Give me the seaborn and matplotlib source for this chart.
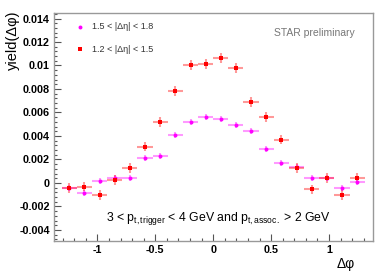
import numpy as np
import pandas as pd
import matplotlib
matplotlib.use("Agg")
import matplotlib.pyplot as plt
import seaborn as sns
from matplotlib.ticker import MultipleLocator, FuncFormatter

# ---- data ----
dphi = [-1.243, -1.113, -0.982, -0.851, -0.720, -0.589, -0.458, -0.327, -0.196, -0.065,
        0.065, 0.196, 0.327, 0.458, 0.589, 0.720, 0.851, 0.982, 1.113, 1.243]
yield_12_15 = [-0.00045, -0.00030, -0.00100, 0.00026, 0.00125, 0.00310, 0.00520, 0.00786, 0.01004, 0.01010,
               0.01066, 0.00976, 0.00690, 0.00560, 0.00370, 0.00130, -0.00055, 0.00045, -0.00100, 0.00045]
yield_15_18 = [-0.00045, -0.00088, 0.00020, 0.00040, 0.00040, 0.00210, 0.00230, 0.00410, 0.00520, 0.00560,
               0.00545, 0.00490, 0.00440, 0.00287, 0.00170, 0.00134, 0.00040, 0.00040, -0.00040, 0.00006]
err_12_15 = [0.00042] * 20
err_15_18 = [0.00026] * 20
half_bin = [0.0654] * 20
labels = ["1.5 < |Δη| < 1.8", "1.2 < |Δη| < 1.5"]

df = pd.DataFrame({
    "dphi": dphi * 2,
    "y": yield_15_18 + yield_12_15,
    "series": [labels[0]] * 20 + [labels[1]] * 20,
})

plt.rcParams['font.family'] = ['Liberation Sans', 'DejaVu Sans']
plt.rcParams['mathtext.fontset'] = 'custom'
plt.rcParams['mathtext.rm'] = 'Liberation Sans'
plt.rcParams['mathtext.it'] = 'Liberation Sans:italic'
fig = plt.figure(figsize=(3.82, 2.74), dpi=100)
ax = fig.add_axes([0.1414, 0.1204, 0.8350, 0.8322])

# error bars
ax.errorbar(dphi, yield_15_18, yerr=err_15_18, xerr=half_bin, fmt='none',
            ecolor='#ff00ff', alpha=0.4, elinewidth=1.5, zorder=2)
ax.errorbar(dphi, yield_12_15, yerr=err_12_15, xerr=half_bin, fmt='none',
            ecolor='#ff0000', alpha=0.4, elinewidth=1.5, zorder=2)

sns.scatterplot(data=df[df.series == labels[0]], x="dphi", y="y", color='#ff00ff',
                marker='o', s=8, linewidth=0, ax=ax, zorder=3, legend=False)
sns.scatterplot(data=df[df.series == labels[1]], x="dphi", y="y", color='#ff0000',
                marker='s', s=10, linewidth=0, ax=ax, zorder=4, legend=False)

ax.set_xlim(-1.375, 1.38)
ax.set_ylim(-0.00494, 0.01447)

ax.xaxis.set_major_locator(MultipleLocator(0.5))
ax.xaxis.set_minor_locator(MultipleLocator(0.1))
ax.yaxis.set_major_locator(MultipleLocator(0.002))
ax.yaxis.set_minor_locator(MultipleLocator(0.0004))

def yfmt(v, pos):
    if abs(v) < 1e-12:
        return "0"
    return ("%.3f" % v).rstrip('0')
def xfmt(v, pos):
    if abs(v) < 1e-12:
        return "0"
    s = ("%.1f" % v)
    if s.endswith(".0"):
        s = s[:-2]
    return s
ax.yaxis.set_major_formatter(FuncFormatter(yfmt))
ax.xaxis.set_major_formatter(FuncFormatter(xfmt))

ax.tick_params(which='both', direction='in', color='#555555', width=0.8,
               top=False, right=False)
ax.tick_params(which='major', length=5)
ax.tick_params(which='minor', length=2.5)
ax.tick_params(axis='both', labelsize=7.8, pad=3)
for lab in ax.get_xticklabels() + ax.get_yticklabels():
    lab.set_fontweight('bold')
for sp in ax.spines.values():
    sp.set_color('#999999')
    sp.set_linewidth(1.0)

ax.set_xlabel("")
ax.set_ylabel("")
fig.text(0.035, 0.96, "yield(Δφ)", rotation=90, ha='center', va='top', fontsize=10.5)
fig.text(0.905, 0.035, "Δφ", ha='center', va='center', fontsize=10)

# legend
ax.scatter([0.082], [0.939], transform=ax.transAxes, marker='o', s=8, color='#ff00ff', linewidths=0)
ax.scatter([0.082], [0.842], transform=ax.transAxes, marker='s', s=10, color='#ff0000', linewidths=0)
ax.text(0.119, 0.939, labels[0], transform=ax.transAxes, ha='left', va='center', fontsize=6.5, color='#333333')
ax.text(0.119, 0.842, labels[1], transform=ax.transAxes, ha='left', va='center', fontsize=6.5, color='#333333')

ax.text(0.944, 0.912, "STAR preliminary", transform=ax.transAxes, ha='right', va='center',
        fontsize=7.5, color='#777777')

ax.text(0.514, 0.097, r"3 < p$_{\mathrm{t,trigger}}$ < 4 GeV and p$_{\mathrm{t,assoc.}}$ > 2 GeV",
        transform=ax.transAxes, ha='center', va='center', fontsize=8.8)

fig.savefig("out.png", dpi=100, facecolor='white')
